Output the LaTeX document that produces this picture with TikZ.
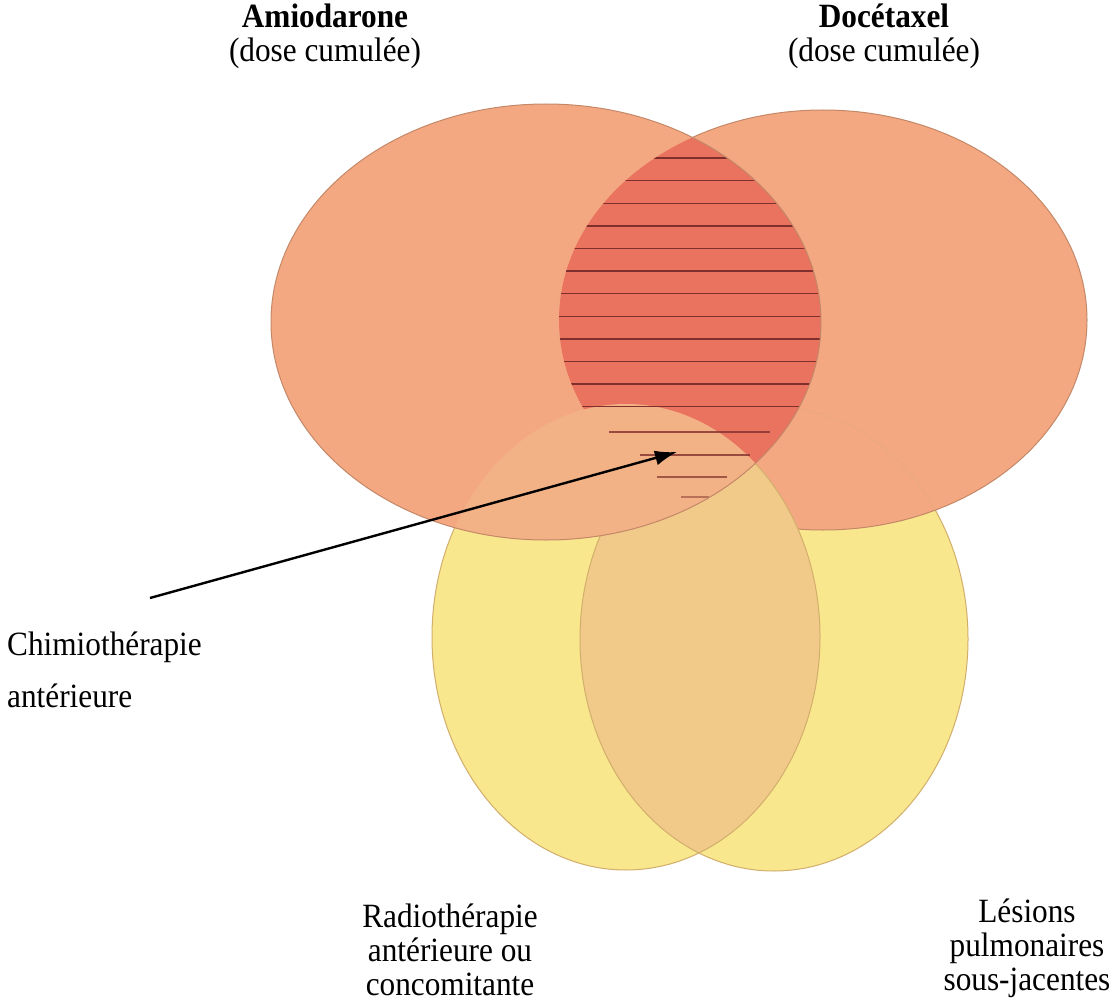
\documentclass[tikz,border=0pt]{standalone}
\usepackage{fontspec}
\setmainfont{Liberation Serif}[FakeStretch=0.92]
\usetikzlibrary{arrows.meta}
\definecolor{org}{HTML}{F4A882}
\definecolor{lensred}{HTML}{E9735F}
\definecolor{yel}{HTML}{F9E78D}
\definecolor{tanc}{HTML}{F1CA8A}
\definecolor{lorg}{HTML}{F3B285}
\definecolor{hatchc}{HTML}{80302C}
\definecolor{orgedge}{HTML}{C48868}
\definecolor{yeledge}{HTML}{D2AE6C}
\newcommand\elLO{(546,322) ellipse [x radius=275pt, y radius=218pt]}
\newcommand\elRO{(823,320) ellipse [x radius=264pt, y radius=210pt]}
\newcommand\elLY{(626,637) ellipse [x radius=194pt, y radius=233pt]}
\newcommand\elRY{(774,639) ellipse [x radius=194pt, y radius=232pt]}
\tikzset{
  lbl/.style={font=\fontsize{34}{34}\selectfont, align=center, inner sep=0pt},
  oedge/.style={draw=orgedge, line width=1pt},
  yedge/.style={draw=yeledge, line width=1pt},
  hline/.style={draw=hatchc, line width=1.4pt},
}
\begin{document}
\begin{tikzpicture}[x=1pt, y=-1pt]
\useasboundingbox (0,0) rectangle (1117,1006);
\fill[white] (0,0) rectangle (1117,1006);
% yellow (bottom) sets
\fill[yel] \elRY;
\path[yedge] \elRY;
% right orange
\fill[org] \elRO;
\path[oedge] \elRO;
\begin{scope}
  \clip \elRO;
  \path[yedge, opacity=0.35] \elRY;
\end{scope}
% left yellow
\fill[yel] \elLY;
\begin{scope}
  \clip \elLY;
  \fill[tanc] \elRY;
  \path[yedge] \elRY;
\end{scope}
\path[yedge] \elLY;
% left orange
\fill[org] \elLO;
\begin{scope}
  \clip \elLO;
  \fill[lensred] \elRO;
\end{scope}
\begin{scope}
  \clip \elLO;
  \clip \elLY;
  \fill[lorg] \elLO;
\end{scope}
% hatching in the lens
\begin{scope}
  \clip \elLO;
  \clip \elRO;
  \foreach \k in {0,...,11} {
    \draw[hline] (540,{158+22.6*\k}) -- (840,{158+22.6*\k});
  }
\end{scope}
\draw[hline, opacity=0.8] (609,432) -- (770,432);
\draw[hline, opacity=0.8] (640,455) -- (750,455);
\draw[hline, opacity=0.7] (657,477) -- (727,477);
\draw[hline, opacity=0.5] (681,497) -- (709,497);
\path[oedge] \elLO;
% arrow
\coordinate (astart) at (150,598);
\coordinate (atip) at (677,452);
\draw[line width=2.4pt, -{Latex[length=22pt,width=15pt]}] (astart) -- (atip);
% labels
\node[lbl, anchor=north] (amio) at (325,4) {\textbf{Amiodarone}\\(dose cumulée)};
\node[lbl, anchor=north] (doce) at (884,4) {\textbf{Docétaxel}\\(dose cumulée)};
\node[lbl, anchor=north] (radio) at (450,904) {Radiothérapie\\antérieure ou\\concomitante};
\node[lbl, anchor=north] (lesions) at (1027,899) {Lésions\\pulmonaires\\sous-jacentes};
\node[lbl, align=left, anchor=north west, font=\fontsize{34}{52}\selectfont] (chimio) at (7,632) {Chimiothérapie\\antérieure};
\end{tikzpicture}
\end{document}
